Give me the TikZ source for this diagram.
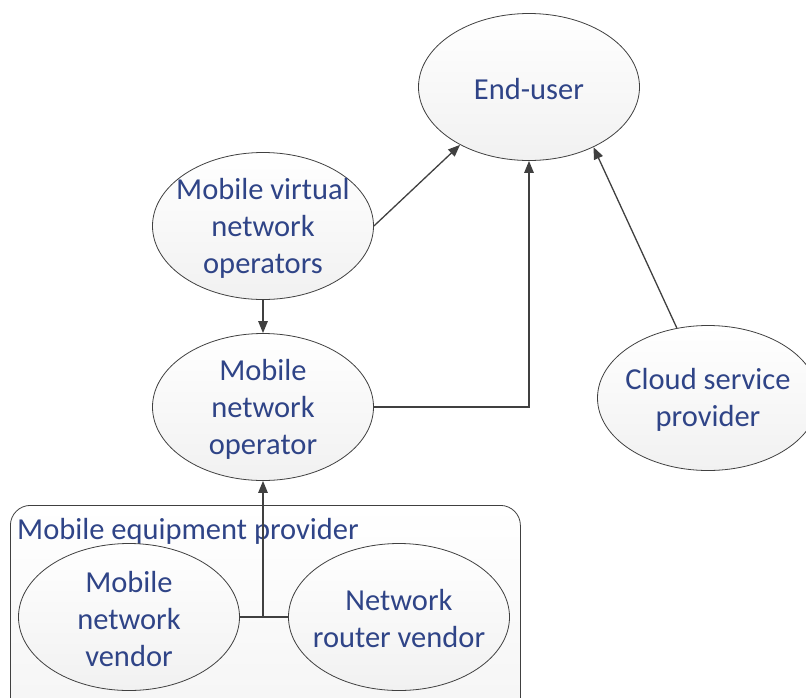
\documentclass[tikz,border=0pt]{standalone}
\usepackage{fontspec}
\setmainfont{Carlito}
\usetikzlibrary{shapes.geometric,arrows.meta}
\definecolor{txt}{RGB}{47,68,135}
\definecolor{ln}{RGB}{64,64,64}
\begin{document}
\begin{tikzpicture}[x=1pt,y=-1pt,
  txtstyle/.style={align=center, text=txt, inner sep=0pt, font=\fontsize{30.5}{37}\selectfont},
  ell/.style={ellipse, draw=ln, line width=0.8pt, top color=white, bottom color=gray!11,
    minimum width=221pt, minimum height=147pt, inner sep=0pt,
    label={[txtstyle, yshift=-2pt]center:#1}},
  conn/.style={draw=ln, line width=1.3pt},
  arr/.style={conn, -{Triangle[length=12pt,width=9.5pt]}}]
\useasboundingbox (0,0) rectangle (806,697);
\clip (0,0) rectangle (806,697);
\node (box) [draw=ln, line width=0.8pt, rounded corners=20pt, top color=white, bottom color=gray!8,
  minimum width=510pt, minimum height=215pt, anchor=north west, inner sep=0pt] at (10,505) {};
\node (lbl) [txtstyle, anchor=west] at (17,531) {Mobile equipment provider};
\node (eu) [ell={End-user}] at (529,87) {};
\node (mvno) [ell={Mobile virtual\\network\\operators}] at (263,226) {};
\node (mno) [ell={Mobile\\network\\operator}] at (263,407) {};
\node (cloud) [ell={Cloud service\\provider}, minimum height=145pt] at (708,398) {};
\node (mnv) [ell={Mobile\\network\\vendor}] at (129,617) {};
\node (nrv) [ell={Network\\router vendor}] at (399,617) {};
\coordinate (j) at (mnv.east -| mno.south);
\draw[arr] (mvno.east) -- (eu.220);
\draw[arr] (mvno.south) -- (mno.north);
\draw[arr] (mno.east) -| (eu.south);
\draw[arr] (cloud.114) -- (eu.317);
\draw[conn] (mnv.east) -- (nrv.west);
\draw[arr] (j) -- (mno.south);
\end{tikzpicture}
\end{document}
